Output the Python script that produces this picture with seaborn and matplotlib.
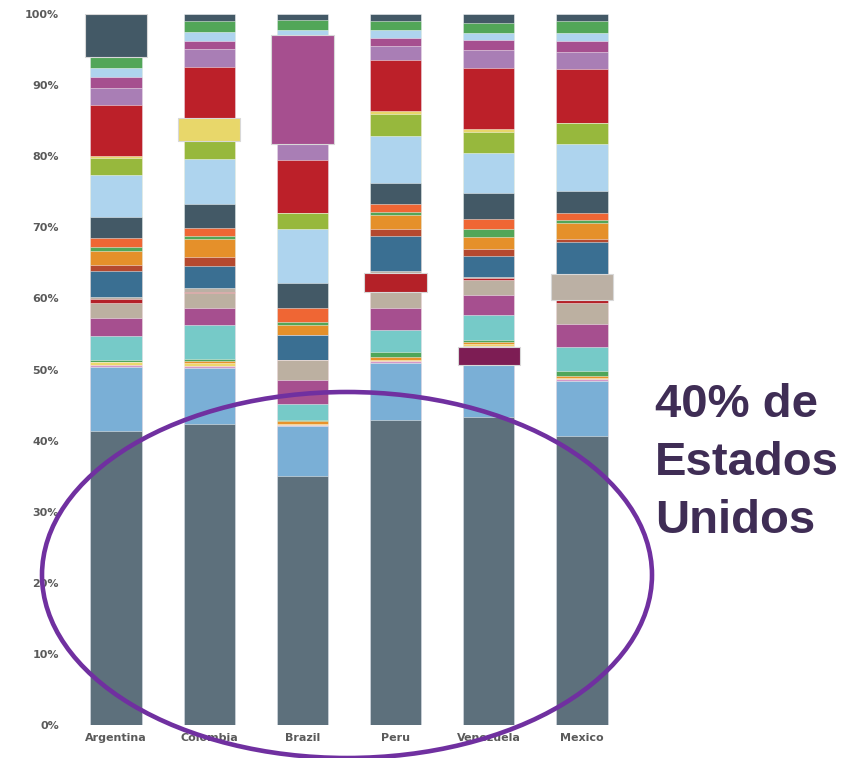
import numpy as np
import pandas as pd
import matplotlib
matplotlib.use('Agg')
import matplotlib.pyplot as plt
from matplotlib.patches import Ellipse
import seaborn as sns

countries = ['Argentina', 'Colombia', 'Brazil', 'Peru', 'Venezuela', 'Mexico']

# capas de abajo hacia arriba (porcentaje de cada país)
layer_colors = ['#5D707C', '#7AAFD6', '#7D1D54', '#D597C9', '#EDD86B', '#E8922A',
                '#4FA65A', '#76CAC8', '#A64F8F', '#BCB0A1', '#B42128', '#BBB0A4',
                '#3A6F92', '#B4492F', '#E5902A', '#52A658', '#EF6634', '#435966',
                '#AED4EE', '#97B83D', '#E8D76A', '#BC2029', '#A97EB5', '#A64F8F',
                '#AED4EE', '#52A658', '#435966']

argentina = [41.4, 8.9, 0.0, 0.3, 0.4, 0.0, 0.3, 3.4, 2.6, 2.1, 0.5, 0.3, 3.6, 0.9,
             1.9, 0.6, 1.3, 2.9, 6.0, 2.3, 0.3, 7.2, 2.4, 1.5, 1.3, 1.5, 6.1]
colombia = [42.3, 7.9, 0.0, 0.3, 0.4, 0.3, 0.3, 4.7, 2.4, 2.1, 0.2, 0.6, 3.0, 1.3,
            2.5, 0.5, 1.1, 3.4, 6.3, 2.5, 3.3, 7.2, 2.5, 1.1, 1.3, 1.5, 1.0]
brazil = [35.0, 7.0, 0.0, 0.2, 0.2, 0.3, 0.2, 2.2, 3.4, 2.8, 0.0, 0.0, 3.5, 0.0,
          1.4, 0.5, 1.9, 3.6, 7.5, 2.3, 0.0, 7.5, 2.2, 15.4, 0.6, 1.5, 0.8]
peru = [42.9, 8.0, 0.0, 0.3, 0.2, 0.3, 0.7, 3.1, 3.1, 2.3, 2.7, 0.3, 4.9, 0.9,
        2.0, 0.5, 1.1, 3.0, 6.5, 3.1, 0.5, 7.1, 2.0, 1.1, 1.1, 1.3, 1.0]
venezuela = [43.3, 7.4, 2.4, 0.2, 0.3, 0.3, 0.2, 3.6, 2.8, 2.1, 0.2, 0.2, 2.9, 1.1,
             1.6, 1.1, 1.5, 3.6, 5.6, 3.0, 0.4, 8.6, 2.6, 1.3, 1.0, 1.5, 1.2]
mexico = [40.6, 7.8, 0.0, 0.2, 0.2, 0.3, 0.7, 3.4, 3.2, 3.0, 0.4, 3.7, 4.5, 0.3,
          2.3, 0.4, 1.0, 3.1, 6.6, 3.0, 0.0, 7.5, 2.5, 1.5, 1.1, 1.7, 1.0]

# capa resaltada (más ancha) en cada país
highlight_layer = [26, 20, 23, 10, 2, 11]

yticks = [0, 10, 20, 30, 40, 50, 60, 70, 80, 90, 100]
ytick_labels = ['0%', '10%', '20%', '30%', '40%', '50%', '60%', '70%', '80%', '90%', '100%']
annot_lines = ['40% de', 'Estados', 'Unidos']

vals = np.array([argentina, colombia, brazil, peru, venezuela, mexico])  # (país, capa)
tops = vals.cumsum(axis=1)
bottoms = tops - vals

sns.set_style('white')

fig = plt.figure(figsize=(8.6, 7.58), dpi=100)
ax = fig.add_axes([70 / 860, 1 - 725 / 758, 558 / 860, 711 / 758])

# barras apiladas: se dibuja de arriba hacia abajo el acumulado de cada capa
for k in range(vals.shape[1] - 1, -1, -1):
    df = pd.DataFrame({'pais': countries, 'top': tops[:, k]})
    sns.barplot(data=df, x='pais', y='top', color=layer_colors[k], width=0.55,
                saturation=1, edgecolor=(1, 1, 1, 0.55), linewidth=0.6, ax=ax)

# segmentos resaltados
for i, k in enumerate(highlight_layer):
    ax.bar(i, vals[i, k], bottom=bottoms[i, k], width=0.67, color=layer_colors[k],
           edgecolor='#d8d8d8', linewidth=0.8, zorder=5)

ax.set_xlim(-0.495, 5.495)
ax.set_ylim(0, 100)
ax.set_yticks(yticks)
ax.set_yticklabels(ytick_labels)
ax.set_xlabel('')
ax.set_ylabel('')
ax.tick_params(axis='both', length=0, labelsize=8, labelcolor='#5a5a5a')
ax.tick_params(axis='y', pad=8)
ax.tick_params(axis='x', pad=6)
for lab in ax.get_xticklabels() + ax.get_yticklabels():
    lab.set_fontweight('bold')
sns.despine(ax=ax, left=True, bottom=True)

ell = Ellipse((347 / 860, 1 - 575 / 758), 610 / 860, 366 / 758,
              transform=fig.transFigure, fill=False, edgecolor='#7030A0',
              linewidth=3.3, zorder=10)
fig.add_artist(ell)

for j, line in enumerate(annot_lines):
    fig.text(655 / 860, 1 - (417 + 58 * j) / 758, line, fontsize=34,
             fontweight='bold', family='Liberation Sans', color='#3F2D55',
             va='baseline', ha='left')

fig.savefig('out.png', dpi=100)
